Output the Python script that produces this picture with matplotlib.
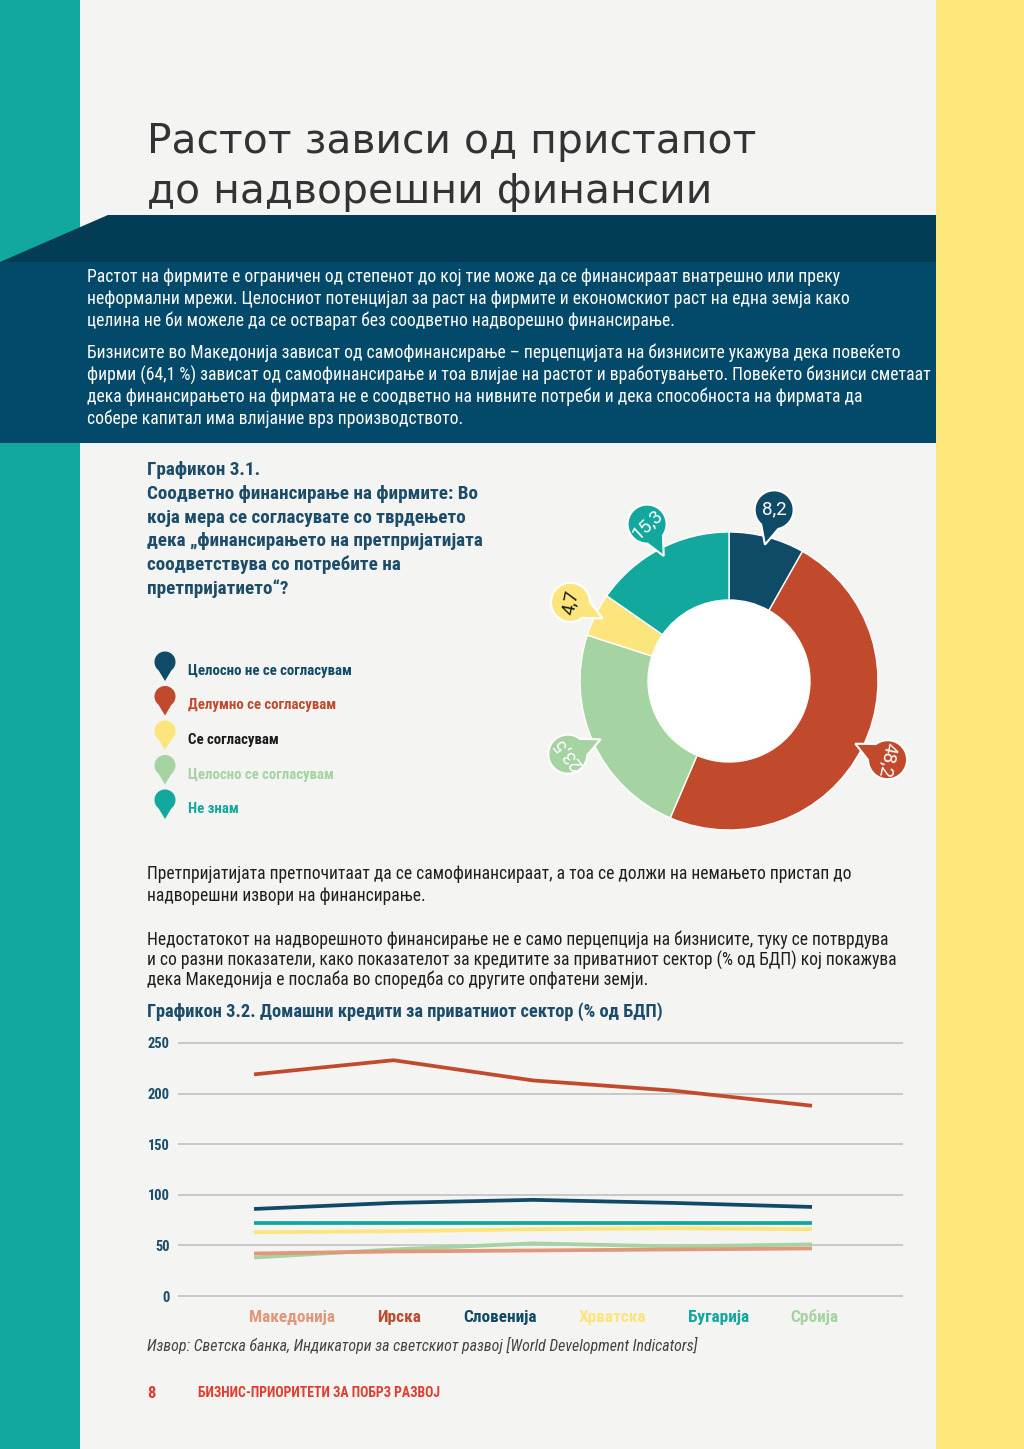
import os
import matplotlib
matplotlib.use('Agg')
import matplotlib.pyplot as plt
import numpy as np
from matplotlib.patches import Rectangle, Polygon, Circle
from matplotlib import font_manager as fm
from matplotlib.font_manager import FontProperties

# ---------------- data ----------------
pie_categories = ['Целосно не се согласувам', 'Делумно се согласувам', 'Се согласувам',
                  'Целосно се согласувам', 'Не знам']
pie_values = [8.2, 48.2, 4.7, 23.5, 15.3]
pie_ring_order = [0, 1, 3, 2, 4]   # clockwise order in the ring

countries = ['Македонија', 'Ирска', 'Словенија', 'Хрватска', 'Бугарија', 'Србија']
mk_vals = [42, 44, 45, 46, 47]
ie_vals = [219, 233, 213, 203, 188]
si_vals = [86, 92, 95, 92, 88]
hr_vals = [63, 64, 66, 67, 66]
bg_vals = [72, 72, 72, 72, 72]
rs_vals = [38, 46, 52, 49, 51]
y_ticks = [0, 50, 100, 150, 200, 250]

# ---------------- fonts ----------------
files = [f.fname for f in fm.fontManager.ttflist]


def find_file(patterns):
    for p in patterns:
        for fn in files:
            if os.path.basename(fn).startswith(p):
                return fn
    return None


cond_sets = [
    ('RobotoCondensed-Regular', 'RobotoCondensed-Bold.', 'RobotoCondensed-Italic'),
    ('LiberationSansNarrow-Regular', 'LiberationSansNarrow-Bold.', 'LiberationSansNarrow-Italic'),
    ('NotoSans-Condensed.', 'NotoSans-CondensedBold.', 'NotoSans-CondensedItalic.'),
    ('OpenSans_Condensed-Regular', 'OpenSans_Condensed-Bold.', 'OpenSans_Condensed-Italic.'),
    ('DejaVuSansCondensed.', 'DejaVuSansCondensed-Bold.', 'DejaVuSansCondensed-Oblique.'),
]
COND = {'regular': None, 'bold': None, 'italic': None}
for r, b, i in cond_sets:
    fr = find_file([r])
    if fr:
        COND = {'regular': fr, 'bold': find_file([b]), 'italic': find_file([i])}
        break


def cfont(kind='regular', size=12):
    fn = COND.get(kind)
    if fn:
        return FontProperties(fname=fn, size=size)
    weight = 'bold' if kind == 'bold' else 'normal'
    style = 'italic' if kind == 'italic' else 'normal'
    return FontProperties(family=['Liberation Sans', 'DejaVu Sans'], weight=weight,
                          style=style, size=size)


label_file = find_file(['Roboto-Regular.', 'LiberationSans-Regular.'])


def labelfont(size):
    if label_file:
        return FontProperties(fname=label_file, size=size)
    return FontProperties(family=['Liberation Sans', 'DejaVu Sans'], size=size)


W, H = 1024, 1449
fig = plt.figure(figsize=(W / 100, H / 100), dpi=100)
renderer = fig.canvas.get_renderer()


def fit(fp_maker, kind, sample, target_px, size_max=40):
    fp = fp_maker(kind, 10) if kind is not None else fp_maker(10)
    w, _, _ = renderer.get_text_width_height_descent(sample, fp, ismath=False)
    return min(size_max, 10 * target_px / w)


# ---------------- style ----------------
NAVY = '#0f4a66'
RED = '#c24a2c'
YELLOW = '#fde57e'
LGREEN = '#a5d3a2'
TEAL = '#12a89d'
SALMON = '#e0977a'
PAGE = '#f4f4f2'
TITLE_BLUE = '#1b4d6b'
pie_colors = [NAVY, RED, YELLOW, LGREEN, TEAL]
pie_text_colors = [NAVY, RED, '#1a1a1a', LGREEN, TEAL]
bubble_text_colors = ['white', 'white', '#1a1a1a', 'white', 'white']
country_colors = [SALMON, RED, NAVY, YELLOW, TEAL, LGREEN]

fig.patch.set_facecolor(PAGE)

bg = fig.add_axes([0, 0, 1, 1])
bg.set_xlim(0, W)
bg.set_ylim(H, 0)
bg.axis('off')
bg.set_zorder(0)

# side strips
bg.add_patch(Rectangle((0, 0), 80, H, color=TEAL, lw=0))
bg.add_patch(Rectangle((936, 0), 88, H, color='#fde77b', lw=0))
# banner
bg.add_patch(Polygon([(108, 215), (936, 215), (936, 263), (0, 263), (0, 262)], closed=True,
                     color='#023c55', lw=0))
bg.add_patch(Rectangle((0, 262), 936, 181, color='#03496a', lw=0))

# title
title_lines = ['Растот зависи од пристапот', 'до надворешни финансии']
tfam = ['DejaVu Sans']
tsize = fit(lambda s: FontProperties(family=tfam, size=s), None, title_lines[0], 608)
for line, y in zip(title_lines, [153, 203]):
    bg.text(147, y, line, fontproperties=FontProperties(family=tfam, size=tsize),
            color='#333333', va='baseline', ha='left')

# banner text
banner_lines = [
    'Растот на фирмите е ограничен од степенот до кој тие може да се финансираат внатрешно или преку',
    'неформални мрежи. Целосниот потенцијал за раст на фирмите и економскиот раст на една земја како',
    'целина не би можеле да се остварат без соодветно надворешно финансирање.',
    'Бизнисите во Македонија зависат од самофинансирање – перцепцијата на бизнисите укажува дека повеќето',
    'фирми (64,1 %) зависат од самофинансирање и тоа влијае на растот и вработувањето. Повеќето бизниси сметаат',
    'дека финансирањето на фирмата не е соодветно на нивните потреби и дека способноста на фирмата да',
    'собере капитал има влијание врз производството.',
]
banner_y = [277, 299, 321, 353, 375, 397, 419]
bsize = fit(cfont, 'regular', banner_lines[0], 749, 15)
for line, y in zip(banner_lines, banner_y):
    bg.text(87, y, line, fontproperties=cfont('regular', bsize), color='white',
            va='center', ha='left')

# chart 3.1 title
c1_lines = ['Графикон 3.1.',
            'Соодветно финансирање на фирмите: Во',
            'која мера се согласувате со тврдењето',
            'дека „финансирањето на претпријатијата',
            'соодветствува со потребите на',
            'претпријатието“?']
c1size = fit(cfont, 'bold', c1_lines[1], 331, 15)
for i, line in enumerate(c1_lines):
    bg.text(147, 470 + i * 23.8, line, fontproperties=cfont('bold', c1size),
            color=TITLE_BLUE, va='center', ha='left')


def pin_shape(cx, cy, r, dir_deg, tip_dist, spread=30, n=80):
    d = np.radians(dir_deg)
    a = np.linspace(d + np.radians(spread), d + 2 * np.pi - np.radians(spread), n)
    pts = np.column_stack([cx + r * np.cos(a), cy + r * np.sin(a)])
    tip = [[cx + tip_dist * np.cos(d), cy + tip_dist * np.sin(d)]]
    return np.vstack([pts, tip])


# legend of chart 3.1
lsize = fit(cfont, 'bold', pie_categories[0], 165, 13)
for i, (cat, col, tcol) in enumerate(zip(pie_categories, pie_colors, pie_text_colors)):
    yc = 662 + i * 34.5
    bg.add_patch(Polygon(pin_shape(165, yc, 10.5, 90, 19, spread=38), closed=True,
                         color=col, lw=0))
    bg.text(188, yc + 9, cat, fontproperties=cfont('bold', lsize), color=tcol,
            va='center', ha='left')

# ---------------- donut ----------------
R_OUT, R_IN = 149, 81
CX, CY = 729, 681
HALF = 220
dax = fig.add_axes([(CX - HALF) / W, 1 - (CY + HALF) / H, 2 * HALF / W, 2 * HALF / H])
dax.set_zorder(2)
dax.patch.set_alpha(0)
ring_vals = [pie_values[k] for k in pie_ring_order]
ring_cols = [pie_colors[k] for k in pie_ring_order]
wedges, _ = dax.pie(ring_vals, colors=ring_cols, startangle=90, counterclock=False, radius=1,
                    wedgeprops=dict(width=1 - R_IN / R_OUT, edgecolor='white', linewidth=1.0))
dax.add_patch(Circle((0, 0), R_IN / R_OUT - 0.005, color='white', lw=0, zorder=3))
dax.set_xlim(-HALF / R_OUT, HALF / R_OUT)
dax.set_ylim(-HALF / R_OUT, HALF / R_OUT)
dax.set_aspect('equal')
dax.axis('off')

mids = [(w.theta1 + w.theta2) / 2 for w in wedges]
rot0 = mids[0]
rb = 177 / R_OUT
brad = 19.5 / R_OUT
for k, th in zip(pie_ring_order, mids):
    t = np.radians(th)
    bx, by = rb * np.cos(t), rb * np.sin(t)
    shape = pin_shape(bx, by, brad, th + 180, rb - 141 / R_OUT, spread=27)
    dax.add_patch(Polygon(shape, closed=True, facecolor=pie_colors[k], edgecolor='white',
                          lw=1.5, zorder=5))
    label = f'{pie_values[k]:.1f}'.replace('.', ',')
    dax.text(bx, by, label, fontproperties=labelfont(13.5), color=bubble_text_colors[k],
             rotation=th - rot0, rotation_mode='anchor', ha='center', va='center', zorder=6)

# ---------------- body paragraphs ----------------
para_lines = [
    ('Претпријатијата претпочитаат да се самофинансираат, а тоа се должи на немањето пристап до', 874),
    ('надворешни извори на финансирање.', 896),
    ('Недостатокот на надворешното финансирање не е само перцепција на бизнисите, туку се потврдува', 940),
    ('и со разни показатели, како показателот за кредитите за приватниот сектор (% од БДП) кој покажува', 960),
    ('дека Македонија е послаба во споредба со другите опфатени земји.', 980),
]
psize = fit(cfont, 'regular', para_lines[0][0], 701, 15)
for line, y in para_lines:
    bg.text(147, y, line, fontproperties=cfont('regular', psize), color='#1e1e1e',
            va='center', ha='left')

c2_title = 'Графикон 3.2. Домашни кредити за приватниот сектор (% од БДП)'
c2size = fit(cfont, 'bold', c2_title, 519, 15)
bg.text(147, 1012, c2_title, fontproperties=cfont('bold', c2size), color=TITLE_BLUE,
        va='center', ha='left')

# ---------------- line chart ----------------
L, Rr = 178, 903
X0PX, X4PX = 254, 812
pxu = (X4PX - X0PX) / 4
ypx = (1296 - 1043) / 250
ylo, yhi = -3, 253
top_px = 1043 - (yhi - 250) * ypx
bot_px = 1296 + (0 - ylo) * ypx
lax = fig.add_axes([L / W, 1 - bot_px / H, (Rr - L) / W, (bot_px - top_px) / H])
lax.set_zorder(2)
lax.patch.set_alpha(0)
lax.set_xlim(-(X0PX - L) / pxu, 4 + (Rr - X4PX) / pxu)
lax.set_ylim(ylo, yhi)
for s in lax.spines.values():
    s.set_visible(False)
tksize = fit(cfont, 'bold', '250', 22, 14)
lax.set_yticks(y_ticks)
lax.set_yticklabels([str(v) for v in y_ticks], fontproperties=cfont('bold', tksize),
                    color=TITLE_BLUE)
lax.tick_params(axis='y', length=0, pad=6)
lax.set_xticks([])
lax.yaxis.grid(True, color='#c8c8c8', lw=1.4)
lax.set_axisbelow(True)

series = [mk_vals, ie_vals, si_vals, hr_vals, bg_vals, rs_vals]
draw_order = [3, 4, 5, 0, 2, 1]
handles = {}
for idx in draw_order:
    vals = series[idx]
    ln, = lax.plot(range(len(vals)), vals, color=country_colors[idx], lw=2.7,
                   solid_capstyle='butt', label=countries[idx])
    handles[idx] = ln

csize = fit(cfont, 'bold', countries[0], 86, 14)
leg = lax.legend([handles[i] for i in range(6)], countries, loc='center',
                 bbox_to_anchor=(544 / W, 1 - 1317 / H), bbox_transform=fig.transFigure,
                 ncol=6, frameon=False, handlelength=0, handletextpad=0, columnspacing=2.42,
                 prop=cfont('bold', csize))
for h in leg.legend_handles:
    h.set_visible(False)
for txt, col in zip(leg.get_texts(), country_colors):
    txt.set_color(col)

src = 'Извор: Светска банка, Индикатори за светскиот развој [World Development Indicators]'
ssize = fit(cfont, 'italic', src, 550, 13)
bg.text(147, 1345, src, fontproperties=cfont('italic', ssize), color='#444444',
        va='center', ha='left')

# footer
foot = 'БИЗНИС-ПРИОРИТЕТИ ЗА ПОБРЗ РАЗВОЈ'
fsize = fit(cfont, 'bold', foot, 243, 12)
bg.text(147, 1393, '8', fontproperties=cfont('bold', 12), color='#e23c2f',
        va='center', ha='left')
bg.text(198, 1393, foot, fontproperties=cfont('bold', fsize), color='#e23c2f',
        va='center', ha='left')

fig.savefig('out.png', dpi=100, facecolor=PAGE)
